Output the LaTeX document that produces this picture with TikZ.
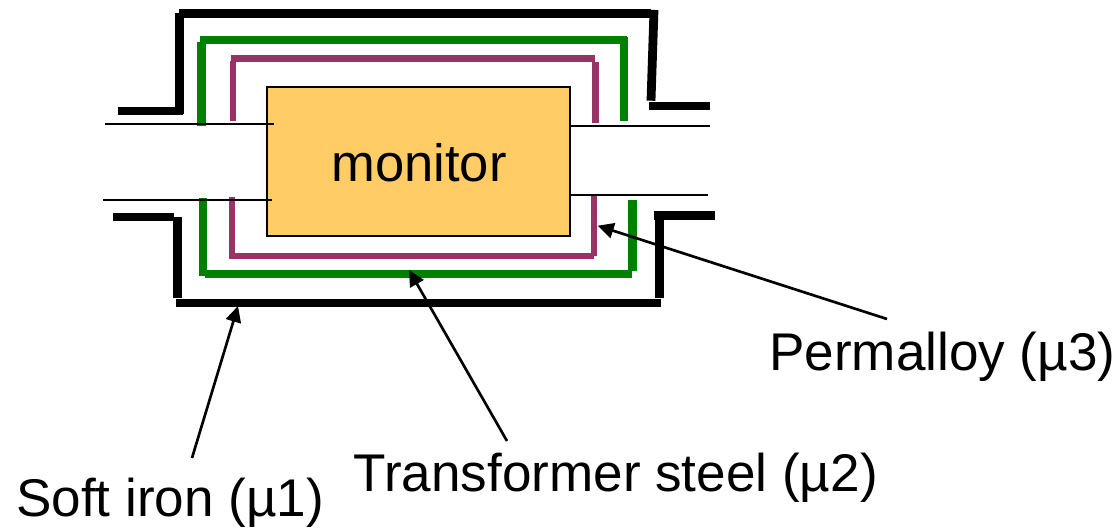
\documentclass[tikz,border=0pt]{standalone}
\usepackage{fontspec}
\setmainfont{Liberation Sans}
\usetikzlibrary{arrows.meta}
\definecolor{shieldgreen}{HTML}{008000}
\definecolor{shieldpurple}{HTML}{993366}
\definecolor{monitorfill}{HTML}{FFCC66}
\tikzset{
  ironseg/.style={draw=black,line width=6.6pt,line cap=butt},
  steelseg/.style={draw=shieldgreen,line width=6.6pt,line cap=butt},
  alloyseg/.style={draw=shieldpurple,line width=4.8pt,line cap=butt},
  wire/.style={draw=black,line width=1.1pt},
  monitorbox/.style={draw=black,line width=1.5pt,fill=monitorfill,anchor=north west,inner sep=0pt,outer sep=0pt,
    minimum width=226.9pt,minimum height=111pt},
  lbl/.style={anchor=base west,inner sep=0pt,font=\fontsize{39.8pt}{44pt}\selectfont},
  pointer/.style={draw=black,line width=2pt,-{Triangle[length=12pt,width=11.5pt]}}
}
\begin{document}
\begin{tikzpicture}[x=0.75pt,y=-0.75pt]
\useasboundingbox (0,0) rectangle (1120,528);
% monitor
\node[monitorbox] (mon) at (267.3,87.5) {};
\node[lbl,anchor=base,font=\fontsize{39.4pt}{44pt}\selectfont] (montext) at (419,181) {monitor};
% soft iron, top
\draw[ironseg] (118,111) -- (183,111);
\draw[ironseg] (179.5,114) -- (179.5,13);
\draw[ironseg] (179,13.5) -- (651,13.5);
\draw[ironseg] (654,10) -- (651,100.7);
\draw[ironseg] (649,106) -- (710,106);
% soft iron, bottom
\draw[ironseg] (113.3,217) -- (174,217);
\draw[ironseg] (177.5,216.7) -- (177.5,297.7);
\draw[ironseg] (176,303) -- (661,303);
\draw[ironseg] (659.3,298) -- (659.3,218);
\draw[ironseg] (654.3,215.3) -- (715,215.3);
% steel, top
\draw[steelseg] (201.5,126) -- (201.5,42);
\draw[steelseg] (200,40) -- (627,40);
\draw[steelseg] (624,36.7) -- (624,120.7);
% steel, bottom
\draw[steelseg] (203,198.3) -- (203,275.7);
\draw[steelseg] (205,274) -- (632.3,274);
\draw[steelseg] (632.3,270.7) -- (632.3,200);
% permalloy, top
\draw[alloyseg] (233,120.7) -- (233,60.7);
\draw[alloyseg] (231,58.7) -- (595,58.7);
\draw[alloyseg] (595.3,62) -- (595.3,122.7);
% permalloy, bottom
\draw[alloyseg] (231.7,196.7) -- (231.7,258.3);
\draw[alloyseg] (229,256) -- (594,256);
\draw[alloyseg] (594,255.7) -- (594,195);
% wires
\coordinate (wlt0) at (105,124);  \coordinate (wlt1) at (273.7,124);
\coordinate (wlb0) at (103,200);  \coordinate (wlb1) at (272,200);
\coordinate (wrt0) at (571,126);  \coordinate (wrt1) at (710,126);
\coordinate (wrb0) at (570.7,195);\coordinate (wrb1) at (707.7,195);
\draw[wire] (wlt0) -- (wlt1);
\draw[wire] (wlb0) -- (wlb1);
\draw[wire] (wrt0) -- (wrt1);
\draw[wire] (wrb0) -- (wrb1);
% labels
\node[lbl] (perm) at (769,370.7) {Permalloy (µ3)};
\node[lbl] (trans) at (353.5,491.7) {Transformer steel (µ2)};
\node[lbl] (soft) at (16,516.5) {Soft iron (µ1)};
% pointers
\coordinate (ps) at (887,319);  \coordinate (pe) at (597.7,225.7);
\coordinate (ts) at (507,441);  \coordinate (te) at (409,270);
\coordinate (ss) at (192,458);  \coordinate (se) at (238,306);
\draw[pointer] (ps) -- (pe);
\draw[pointer] (ts) -- (te);
\draw[pointer] (ss) -- (se);
\end{tikzpicture}
\end{document}
